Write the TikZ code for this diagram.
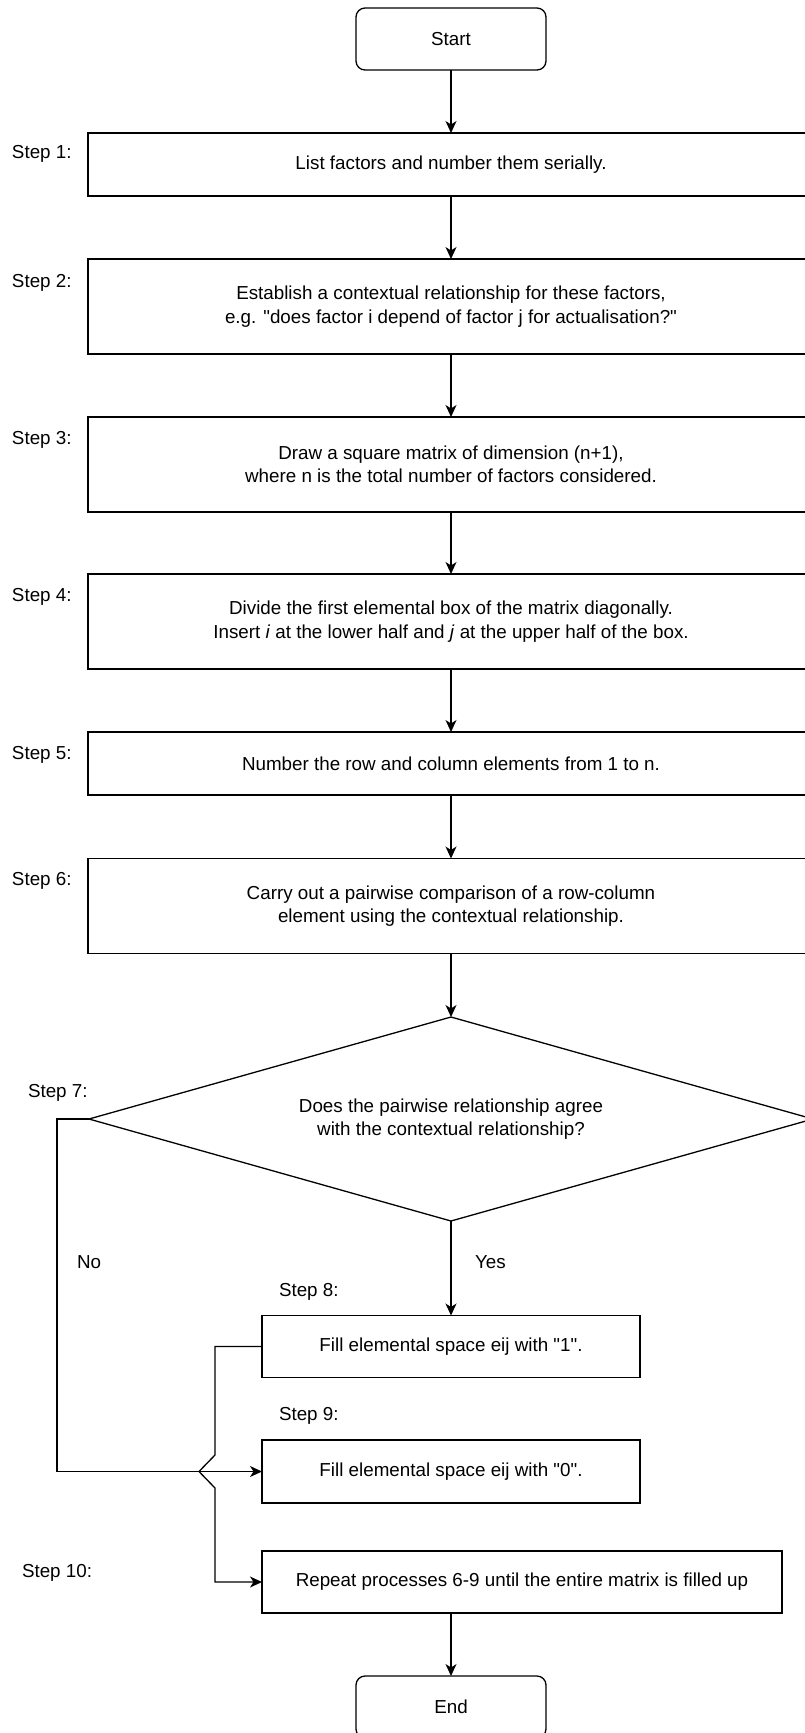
\documentclass[tikz,border=0pt]{standalone}
\usepackage{fontspec}
\setmainfont{Liberation Sans}
\usetikzlibrary{shapes.geometric,arrows.meta}
\newcommand{\dq}{\textquotedbl}
\begin{document}
\begin{tikzpicture}[x=1pt,y=-1pt,
  line width=1.3pt,
  font=\fontsize{18.8}{23.5}\selectfont,
  every node/.style={inner sep=0pt, outer sep=0pt},
  stepbox/.style={draw, rectangle, align=center, minimum height=#1},
  stepbox/.default=95pt,
  terminal/.style={draw, rectangle, rounded corners=9pt, minimum width=190pt, minimum height=62pt},
  decision/.style={draw, diamond, aspect=3.55, minimum width=724pt, minimum height=204pt, align=center},
  steplabel/.style={anchor=west},
  flowarrow/.style={-{Stealth[length=12pt,width=11pt,inset=3.5pt]}}]
  % page frame
  \clip (0,0) rectangle (805,1733);

  % terminals
  \node[terminal] (start) at (451,39) {Start};
  \node[terminal] (end) at (451,1707) {End};

  % main steps (wide boxes run off the right margin)
  \node[stepbox=63pt, minimum width=726pt] (s1) at (451,164.5) {List factors and number them serially.};
  \node[stepbox, minimum width=726pt] (s2) at (451,306.5) {Establish a contextual relationship for these factors,\\e.g. \dq does factor i depend of factor j for actualisation?\dq};
  \node[stepbox, minimum width=726pt] (s3) at (451,464.5) {Draw a square matrix of dimension (n+1),\\where n is the total number of factors considered.};
  \node[stepbox, minimum width=726pt] (s4) at (451,621.5) {Divide the first elemental box of the matrix diagonally.\\Insert \textit{i} at the lower half and \textit{j} at the upper half of the box.};
  \node[stepbox=63pt, minimum width=726pt] (s5) at (451,763.5) {Number the row and column elements from 1 to n.};
  \node[stepbox, minimum width=726pt] (s6) at (451,906) {Carry out a pairwise comparison of a row-column\\element using the contextual relationship.};

  % decision
  \node[decision] (d) at (451,1119) {Does the pairwise relationship agree\\ with the contextual relationship?};

  % outcome steps
  \node[stepbox=62pt, minimum width=378pt] (s8) at (451,1346.5) {Fill elemental space eij with \dq 1\dq.};
  \node[stepbox=63pt, minimum width=378pt] (s9) at (451,1471.5) {Fill elemental space eij with \dq 0\dq.};
  \node[stepbox=62pt, minimum width=520pt] (s10) at (522,1582) {Repeat processes 6-9 until the entire matrix is filled up};

  % step labels
  \node[steplabel] (l1) at (12,154) {Step 1:};
  \node[steplabel] (l2) at (12,283) {Step 2:};
  \node[steplabel] (l3) at (12,440) {Step 3:};
  \node[steplabel] (l4) at (12,597) {Step 4:};
  \node[steplabel] (l5) at (12,755) {Step 5:};
  \node[steplabel] (l6) at (12,881) {Step 6:};
  \node[steplabel] (l7) at (28,1093) {Step 7:};
  \node[steplabel] (l8) at (279,1292) {Step 8:};
  \node[steplabel] (l9) at (279,1416) {Step 9:};
  \node[steplabel] (l10) at (22,1573) {Step 10:};

  % branch labels
  \node[steplabel] (no) at (77,1262) {No};
  \node[steplabel] (yes) at (475,1262) {Yes};

  % main flow
  \draw[flowarrow] (start.south) -- (s1.north);
  \draw[flowarrow] (s1.south) -- (s2.north);
  \draw[flowarrow] (s2.south) -- (s3.north);
  \draw[flowarrow] (s3.south) -- (s4.north);
  \draw[flowarrow] (s4.south) -- (s5.north);
  \draw[flowarrow] (s5.south) -- (s6.north);
  \draw[flowarrow] (s6.south) -- (d.north);
  \draw[flowarrow] (d.south) -- (s8.north);
  \draw[flowarrow] (end.north |- s10.south) -- (end.north);

  % "No" branch into step 9
  \draw[flowarrow] (d.west) -- ++(-32,0) |- (s9.west);

  % step 8 on to step 10, hopping over the "No" line
  \draw[flowarrow] (s8.west) -- ++(-47,0) -- ++(0,108.5) -- ++(-16,16.5) -- ++(16,16.5) |- (s10.west);
\end{tikzpicture}
\end{document}
